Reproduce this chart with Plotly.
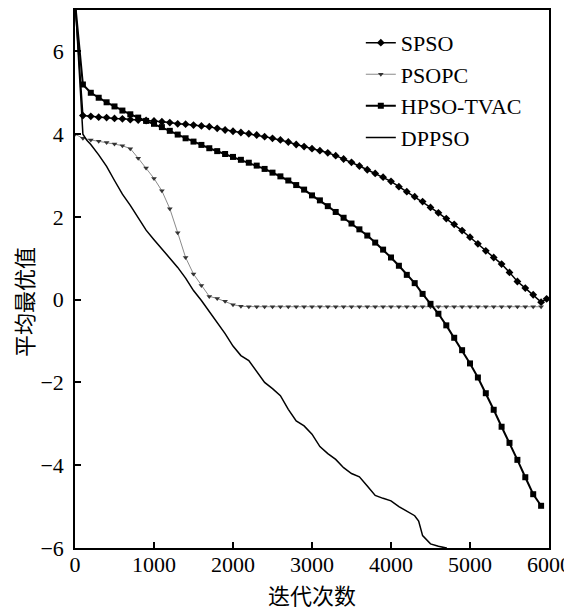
import plotly.graph_objects as go

# iterations at which the marked curves were sampled
iters = [0, 100, 200, 300, 400, 500, 600, 700, 800, 900,
         1000, 1100, 1200, 1300, 1400, 1500, 1600, 1700, 1800, 1900,
         2000, 2100, 2200, 2300, 2400, 2500, 2600, 2700, 2800, 2900,
         3000, 3100, 3200, 3300, 3400, 3500, 3600, 3700, 3800, 3900,
         4000, 4100, 4200, 4300, 4400, 4500, 4600, 4700, 4800, 4900,
         5000, 5100, 5200, 5300, 5400, 5500, 5600, 5700, 5800, 5900]

spso = [7.2, 4.45, 4.43, 4.41, 4.40, 4.38, 4.37, 4.35, 4.34, 4.33,
        4.32, 4.30, 4.28, 4.25, 4.24, 4.22, 4.20, 4.18, 4.14, 4.10,
        4.07, 4.04, 4.01, 3.98, 3.94, 3.90, 3.86, 3.81, 3.75, 3.70,
        3.65, 3.60, 3.55, 3.48, 3.40, 3.32, 3.23, 3.14, 3.05, 2.96,
        2.86, 2.73, 2.61, 2.49, 2.37, 2.23, 2.10, 1.96, 1.82, 1.67,
        1.51, 1.35, 1.18, 1.02, 0.86, 0.66, 0.44, 0.28, 0.12, -0.06]
spso_end_x = [5970]
spso_end_y = [0.02]

psopc = [4.00, 3.90, 3.86, 3.83, 3.80, 3.76, 3.72, 3.65, 3.42, 3.18,
         2.93, 2.63, 2.20, 1.62, 1.02, 0.62, 0.34, 0.08, 0.03, -0.04,
         -0.12, -0.16, -0.17, -0.17, -0.17, -0.17, -0.17, -0.17, -0.17, -0.17,
         -0.17, -0.17, -0.17, -0.17, -0.17, -0.17, -0.17, -0.17, -0.17, -0.17,
         -0.17, -0.17, -0.17, -0.17, -0.17, -0.17, -0.17, -0.17, -0.17, -0.17,
         -0.17, -0.17, -0.17, -0.17, -0.17, -0.17, -0.17, -0.17, -0.17, -0.17]

hpso_tvac = [7.2, 5.20, 5.00, 4.88, 4.77, 4.67, 4.57, 4.48, 4.40, 4.32,
             4.25, 4.17, 4.08, 3.99, 3.90, 3.82, 3.74, 3.66, 3.59, 3.52,
             3.45, 3.38, 3.31, 3.24, 3.16, 3.07, 2.98, 2.88, 2.77, 2.66,
             2.52, 2.40, 2.26, 2.12, 1.98, 1.84, 1.70, 1.55, 1.38, 1.21,
             1.02, 0.82, 0.60, 0.40, 0.14, -0.10, -0.34, -0.62, -0.92, -1.22,
             -1.54, -1.88, -2.26, -2.66, -3.07, -3.46, -3.87, -4.29, -4.70, -4.98]

# DPPSO has no markers, sampled where the curve bends
dppso_x = [0, 40, 80, 100, 150, 200, 300, 400, 500, 600, 700, 800, 900,
           1000, 1100, 1200, 1300, 1400, 1500, 1600, 1700, 1800, 1900,
           2000, 2100, 2200, 2300, 2400, 2500, 2600, 2700, 2800, 2900,
           3000, 3100, 3200, 3300, 3400, 3500, 3600, 3700, 3800, 3900,
           4000, 4100, 4200, 4300, 4350, 4400, 4500, 4600, 4700, 4800]
dppso_y = [7.3, 6.0, 4.5, 4.0, 3.85, 3.75, 3.50, 3.22, 2.88, 2.55, 2.28, 1.97, 1.68,
           1.45, 1.22, 1.00, 0.78, 0.52, 0.22, -0.02, -0.28, -0.55, -0.82,
           -1.12, -1.35, -1.47, -1.75, -2.00, -2.15, -2.32, -2.65, -2.93, -3.05,
           -3.25, -3.55, -3.72, -3.86, -4.06, -4.20, -4.28, -4.50, -4.73, -4.80,
           -4.86, -5.00, -5.12, -5.22, -5.35, -5.70, -5.90, -5.96, -6.00, -6.30]

x_ticks = [0, 1000, 2000, 3000, 4000, 5000, 6000]
y_ticks = [-6, -4, -2, 0, 2, 4, 6]

serif = "Liberation Serif, Times New Roman, serif"
cjk = "Noto Sans CJK SC, sans-serif"

fig = go.Figure()

fig.add_trace(go.Scatter(
    x=iters + spso_end_x, y=spso + spso_end_y, name="SPSO", mode="lines+markers",
    line=dict(color="black", width=1.5),
    marker=dict(symbol="diamond", size=6, color="black"),
))
fig.add_trace(go.Scatter(
    x=iters, y=psopc, name="PSOPC", mode="lines+markers",
    line=dict(color="#8a8a8a", width=1),
    marker=dict(symbol="triangle-down", size=5, color="#333333"),
))
fig.add_trace(go.Scatter(
    x=iters, y=hpso_tvac, name="HPSO-TVAC", mode="lines+markers",
    line=dict(color="black", width=2),
    marker=dict(symbol="square", size=6, color="black"),
))
fig.add_trace(go.Scatter(
    x=dppso_x, y=dppso_y, name="DPPSO", mode="lines",
    line=dict(color="black", width=1.5),
))

axis_common = dict(
    showline=True, linecolor="black", linewidth=1.5, mirror=True,
    showgrid=False, zeroline=False, automargin=False,
    ticks="inside", ticklen=6, tickcolor="black", tickwidth=1.5,
    tickfont=dict(family=serif, size=22, color="black"),
)

fig.update_xaxes(range=[0, 6000], tickvals=x_ticks, ticklabelstandoff=-4, **axis_common)
fig.update_yaxes(range=[-6, 7], tickvals=y_ticks, ticklabelstandoff=5, **axis_common)

# axis titles as annotations so they sit where the original has them
fig.add_annotation(text="迭代次数", xref="paper", yref="paper", x=0.5, y=-0.085,
                   xanchor="center", yanchor="middle", showarrow=False,
                   font=dict(family=cjk, size=22, color="black"))
fig.add_annotation(text="平均最优值", xref="paper", yref="paper", x=-0.11, y=0.457,
                   xanchor="center", yanchor="middle", textangle=-90, showarrow=False,
                   font=dict(family=cjk, size=22, color="black"))

# the page body adds an 8px offset, so the figure is a bit smaller than the window
fig.update_layout(
    width=564, height=602,
    margin=dict(l=67, r=23, t=2, b=62),
    plot_bgcolor="white", paper_bgcolor="white",
    showlegend=True,
    legend=dict(x=0.603, y=0.978, xanchor="left", yanchor="top",
                font=dict(family=serif, size=22, color="black"),
                bgcolor="rgba(0,0,0,0)", tracegroupgap=0, itemwidth=30),
)

fig.write_html("out.html")
